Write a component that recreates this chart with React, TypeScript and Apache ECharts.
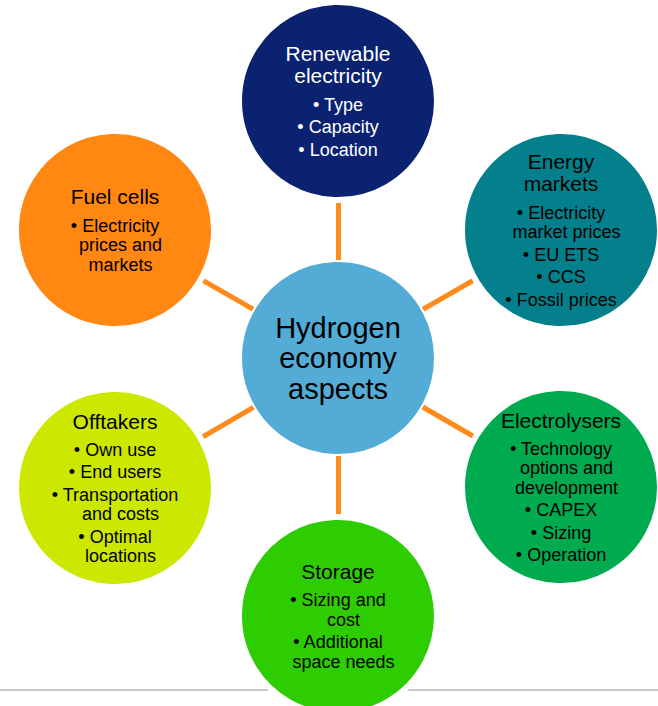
import React, { useEffect, useRef } from "react";
import * as echarts from "echarts";

// ---- data ----
const nodeIds = ["center", "renewable", "energy", "electrolysers", "storage", "offtakers", "fuelcells"];
const nodeTitles: string[][] = [
  ["Hydrogen", "economy", "aspects"],
  ["Renewable", "electricity"],
  ["Energy", "markets"],
  ["Electrolysers"],
  ["Storage"],
  ["Offtakers"],
  ["Fuel cells"],
];
const nodeBullets: string[][][] = [
  [],
  [["Type"], ["Capacity"], ["Location"]],
  [["Electricity", "market prices"], ["EU ETS"], ["CCS"], ["Fossil prices"]],
  [["Technology", "options and", "development"], ["CAPEX"], ["Sizing"], ["Operation"]],
  [["Sizing and", "cost"], ["Additional", "space needs"]],
  [["Own use"], ["End users"], ["Transportation", "and costs"], ["Optimal", "locations"]],
  [["Electricity", "prices and", "markets"]],
];
const linkPairs: [number, number][] = [
  [0, 1], [0, 2], [0, 3], [0, 4], [0, 5], [0, 6],
];

// ---- layout & style ----
const nodePos: [number, number][] = [
  [338, 358], [338, 101], [561, 230], [561, 487], [338, 616], [115, 488], [115, 230],
];
const nodeColors = ["#52ACD6", "#0A2270", "#03808B", "#00AB50", "#2ECD02", "#CDE800", "#FF8712"];
const textColors = ["#000", "#fff", "#000", "#000", "#000", "#000", "#000"];
const FONT = "'Liberation Sans', Arial, sans-serif";

function buildLabel(i: number): string {
  const parts: string[] = [];
  if (i === 0) {
    return nodeTitles[i].map((t) => `{hd|${t}}`).join("\n");
  }
  nodeTitles[i].forEach((t) => parts.push(`{tt|${t}}`));
  parts.push(`{gp| }`);
  nodeBullets[i].forEach((lines, bi) => {
    if (bi > 0) parts.push(`{gs| }`);
    lines.forEach((ln, li) => {
      if (li === 0) parts.push(`{bl|\u2022 ${ln}}`);
      else parts.push(`{cn|${ln}}`);
    });
  });
  return parts.join("\n");
}

export default function App() {
  const ref = useRef<HTMLDivElement>(null);
  useEffect(() => {
    if (!ref.current) return;
    const chart = echarts.init(ref.current, undefined, { renderer: "svg" });
    const data = nodeIds.map((id, i) => {
      const label = buildLabel(i);
      return {
        name: id,
        value: nodePos[i],
        symbol: "circle",
        symbolSize: i === 0 ? 194 : 198,
        itemStyle: {
          color: nodeColors[i],
          borderColor: "#ffffff",
          borderWidth: i === 0 ? 2 : 6,
        },
        label: {
          show: true,
          position: "inside",
          color: textColors[i],
          formatter: () => label,
        },
      };
    });
    const option: any = {
      animation: false,
      backgroundColor: "#ffffff",
      grid: { left: 0, right: 0, top: 0, bottom: 0, containLabel: false },
      xAxis: { type: "value", min: 0, max: 658, show: false },
      yAxis: { type: "value", min: 0, max: 706, inverse: true, show: false },
      graphic: [
        {
          type: "line",
          z: 0,
          shape: { x1: 0, y1: 690, x2: 658, y2: 690 },
          style: { stroke: "#C8C8C8", lineWidth: 2 },
        },
      ],
      series: [
        {
          type: "graph",
          coordinateSystem: "cartesian2d",
          layout: "none",
          roam: false,
          silent: true,
          z: 5,
          emphasis: { disabled: true },
          data,
          links: linkPairs.map(([s, t]) => ({ source: s, target: t })),
          lineStyle: { color: "#FF8A1C", width: 5, opacity: 1, curveness: 0 },
          label: {
            show: true,
            position: "inside",
            fontFamily: FONT,
            align: "center",
            verticalAlign: "middle",
            rich: {
              hd: { fontFamily: FONT, fontSize: 29, lineHeight: 30.5, align: "center" },
              tt: { fontFamily: FONT, fontSize: 21, lineHeight: 22, align: "center" },
              gp: { fontFamily: FONT, fontSize: 1, lineHeight: 8 },
              gs: { fontFamily: FONT, fontSize: 1, lineHeight: 3 },
              bl: { fontFamily: FONT, fontSize: 18, lineHeight: 19.5, align: "center" },
              cn: {
                fontFamily: FONT,
                fontSize: 18,
                lineHeight: 19.5,
                align: "center",
                padding: [0, 0, 0, 11],
              },
            },
          },
        },
      ],
    };
    chart.setOption(option);
    return () => chart.dispose();
  }, []);
  return (
    <div
      ref={ref}
      style={{ position: "fixed", left: 0, top: 0, width: 658, height: 706 }}
    />
  );
}
